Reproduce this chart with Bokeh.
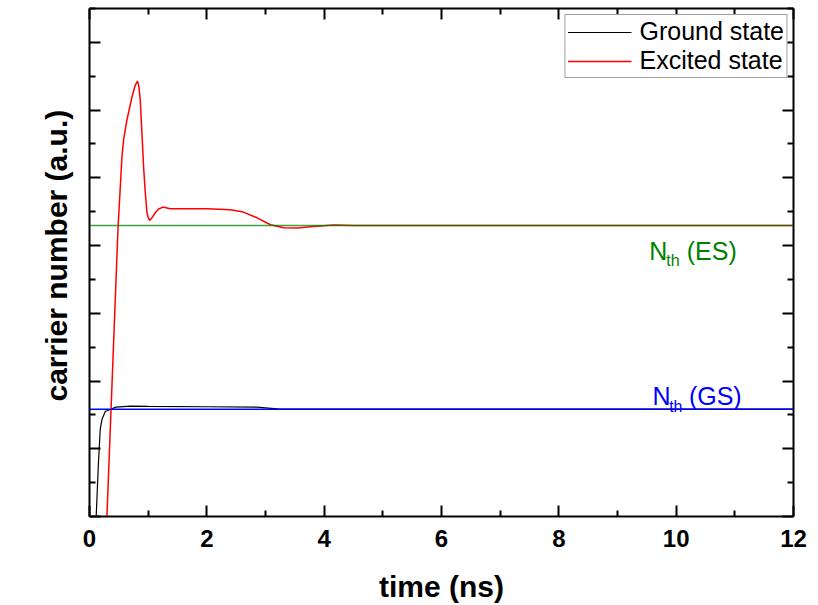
from bokeh.plotting import figure
from bokeh.models import Range1d, LinearAxis, FixedTicker, Legend, LegendItem, Span, CustomJSTickFormatter, Title
from bokeh.core.properties import value
from bokeh.embed import file_html
from bokeh.resources import INLINE

# ---- data ----
time_gs = [0.114, 0.150, 0.183, 0.212, 0.268, 0.353, 0.45, 0.7, 1.0, 2.0, 2.85, 3.25, 12.0]
n_gs = [0.0, 0.75, 1.29, 1.43, 1.55, 1.58, 1.615, 1.63, 1.625, 1.62, 1.615, 1.585, 1.585]

time_es = [0.297, 0.40, 0.485, 0.553, 0.581, 0.638, 0.724, 0.780, 0.819, 0.843, 0.865,
           0.894, 0.922, 0.951, 0.980, 1.002, 1.024, 1.065, 1.121, 1.178, 1.253, 1.377,
           2.003, 2.401, 2.623, 2.857, 3.084, 3.311, 3.539, 3.817, 4.159, 4.5, 12.0]
n_es = [0.0, 2.32, 4.233, 5.309, 5.56, 5.854, 6.193, 6.37, 6.428, 6.34, 6.148,
        5.66, 5.161, 4.78, 4.484, 4.41, 4.370, 4.41, 4.484, 4.54, 4.568, 4.543,
        4.543, 4.528, 4.494, 4.410, 4.307, 4.263, 4.258, 4.282, 4.302, 4.296, 4.296]

nth_gs = 1.585
nth_es = 4.296

x_major = [0, 2, 4, 6, 8, 10, 12]
x_minor = [1, 3, 5, 7, 9, 11]
y_major = [0, 1, 2, 3, 4, 5, 6, 7]
y_minor = [0.5, 1.5, 2.5, 3.5, 4.5, 5.5, 6.5, 7.5]

FONT = "Liberation Sans"

p = figure(width=818, height=605, x_range=Range1d(0, 12), y_range=Range1d(0, 7.5),
           output_backend="svg", toolbar_location=None,
           min_border_left=89, min_border_right=25, min_border_top=8, min_border_bottom=88)
p.xgrid.visible = False
p.ygrid.visible = False
p.outline_line_color = None
p.background_fill_color = "white"
p.border_fill_color = "white"


def style_axis(ax, show_labels):
    ax.major_tick_in = 11
    ax.major_tick_out = 0
    ax.minor_tick_in = 6
    ax.minor_tick_out = 0
    ax.major_tick_line_width = 2
    ax.minor_tick_line_width = 2
    ax.axis_line_width = 2
    ax.major_tick_line_color = "black"
    ax.minor_tick_line_color = "black"
    ax.axis_line_color = "black"
    if not show_labels:
        ax.formatter = CustomJSTickFormatter(code="return ''")
        ax.major_label_text_font_size = "0px"
        ax.major_label_standoff = 0


# bottom axis
xa = p.xaxis[0]
xa.ticker = FixedTicker(ticks=x_major, minor_ticks=x_minor)
style_axis(xa, True)
xa.major_label_text_font = FONT
xa.major_label_text_font_style = "bold"
xa.major_label_text_font_size = "24px"
xa.major_label_text_color = "black"
xa.major_label_standoff = 13
xa.axis_label = "time (ns)"
xa.axis_label_text_font = FONT
xa.axis_label_text_font_style = "bold"
xa.axis_label_text_font_size = "30px"
xa.axis_label_text_color = "black"
xa.axis_label_standoff = 20

# left axis
ya = p.yaxis[0]
ya.ticker = FixedTicker(ticks=y_major, minor_ticks=y_minor)
style_axis(ya, False)

# y-axis title as a side title so it can be placed slightly above centre
ytitle = Title(text="carrier number (a.u.)", align="left", offset=115, standoff=30,
               vertical_align="top",
               text_font=FONT, text_font_style="bold", text_font_size="30px",
               text_color="black")
p.add_layout(ytitle, "left")

# mirror axes
top = LinearAxis(ticker=FixedTicker(ticks=x_major, minor_ticks=x_minor))
style_axis(top, False)
p.add_layout(top, "above")
right = LinearAxis(ticker=FixedTicker(ticks=y_major, minor_ticks=y_minor))
style_axis(right, False)
p.add_layout(right, "right")

# curves
gs = p.line(time_gs, n_gs, line_color="black", line_width=1.2)
es = p.line(time_es, n_es, line_color="red", line_width=1.5)

# threshold lines
p.add_layout(Span(location=nth_es, dimension="width", line_color="#008000", line_alpha=0.75, line_width=1.3))
p.add_layout(Span(location=nth_gs, dimension="width", line_color="#0000ff", line_width=1.5))

# threshold labels
p.text(x=[9.54], y=[nth_es - 0.37], text=["N"], text_font=value(FONT), text_font_size="25px",
       text_color="#008000", text_align="left", text_baseline="alphabetic")
p.text(x=[9.83], y=[nth_es - 0.52], text=["th"], text_font=value(FONT), text_font_size="16px",
       text_color="#008000", text_align="left", text_baseline="alphabetic")
p.text(x=[10.18], y=[nth_es - 0.37], text=["(ES)"], text_font=value(FONT), text_font_size="25px",
       text_color="#008000", text_align="left", text_baseline="alphabetic")

p.text(x=[9.597], y=[nth_gs + 0.19], text=["N"], text_font=value(FONT), text_font_size="25px",
       text_color="#0000ff", text_align="left", text_baseline="alphabetic")
p.text(x=[9.88], y=[nth_gs + 0.045], text=["th"], text_font=value(FONT), text_font_size="16px",
       text_color="#0000ff", text_align="left", text_baseline="alphabetic")
p.text(x=[10.217], y=[nth_gs + 0.19], text=["(GS)"], text_font=value(FONT), text_font_size="25px",
       text_color="#0000ff", text_align="left", text_baseline="alphabetic")

# legend
legend = Legend(items=[LegendItem(label="Ground state", renderers=[gs]),
                       LegendItem(label="Excited state", renderers=[es])],
                location="top_right")
legend.margin = 6
legend.padding = 2
legend.spacing = 0
legend.glyph_width = 64
legend.glyph_height = 24
legend.label_height = 24
legend.label_standoff = 8
legend.label_text_font = FONT
legend.label_text_font_size = "25px"
legend.label_text_color = "black"
legend.border_line_color = "#444444"
legend.border_line_width = 1
legend.background_fill_alpha = 1
p.add_layout(legend)

open("out.html", "w").write(file_html(p, INLINE))
